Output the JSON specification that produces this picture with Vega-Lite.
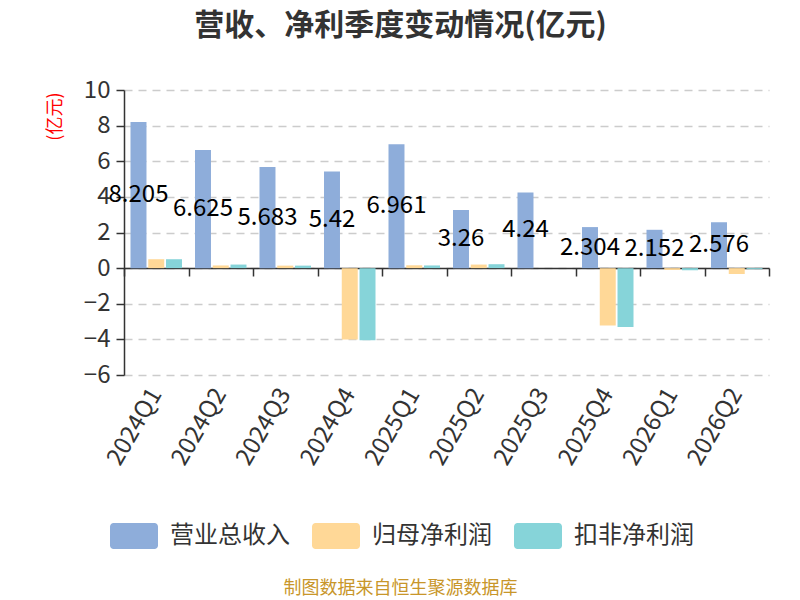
{
  "$schema": "https://vega.github.io/schema/vega-lite/v6.json",
  "width": 645,
  "height": 285,
  "autosize": {"type": "none"},
  "padding": {"left": 124, "top": 90, "right": 31, "bottom": 225},
  "background": "white",
  "config": {
    "font": "Noto Sans CJK SC",
    "view": {"stroke": null}
  },
  "title": {
    "text": "营收、净利季度变动情况(亿元)",
    "fontSize": 30,
    "fontWeight": "bold",
    "color": "#333333",
    "anchor": "middle",
    "frame": "group",
    "dx": -46,
    "offset": 37
  },
  "data": {
    "values": [
      {"quarter": "2024Q1", "series": "营业总收入", "value": 8.205},
      {"quarter": "2024Q2", "series": "营业总收入", "value": 6.625},
      {"quarter": "2024Q3", "series": "营业总收入", "value": 5.683},
      {"quarter": "2024Q4", "series": "营业总收入", "value": 5.42},
      {"quarter": "2025Q1", "series": "营业总收入", "value": 6.961},
      {"quarter": "2025Q2", "series": "营业总收入", "value": 3.26},
      {"quarter": "2025Q3", "series": "营业总收入", "value": 4.24},
      {"quarter": "2025Q4", "series": "营业总收入", "value": 2.304},
      {"quarter": "2026Q1", "series": "营业总收入", "value": 2.152},
      {"quarter": "2026Q2", "series": "营业总收入", "value": 2.576},
      {"quarter": "2024Q1", "series": "归母净利润", "value": 0.5},
      {"quarter": "2024Q2", "series": "归母净利润", "value": 0.15},
      {"quarter": "2024Q3", "series": "归母净利润", "value": 0.14},
      {"quarter": "2024Q4", "series": "归母净利润", "value": -4.0},
      {"quarter": "2025Q1", "series": "归母净利润", "value": 0.16},
      {"quarter": "2025Q2", "series": "归母净利润", "value": 0.2},
      {"quarter": "2025Q4", "series": "归母净利润", "value": -3.22},
      {"quarter": "2026Q1", "series": "归母净利润", "value": -0.1},
      {"quarter": "2026Q2", "series": "归母净利润", "value": -0.33},
      {"quarter": "2024Q1", "series": "扣非净利润", "value": 0.5},
      {"quarter": "2024Q2", "series": "扣非净利润", "value": 0.2},
      {"quarter": "2024Q3", "series": "扣非净利润", "value": 0.14},
      {"quarter": "2024Q4", "series": "扣非净利润", "value": -4.05},
      {"quarter": "2025Q1", "series": "扣非净利润", "value": 0.15},
      {"quarter": "2025Q2", "series": "扣非净利润", "value": 0.22},
      {"quarter": "2025Q4", "series": "扣非净利润", "value": -3.3},
      {"quarter": "2026Q1", "series": "扣非净利润", "value": -0.12},
      {"quarter": "2026Q2", "series": "扣非净利润", "value": -0.06}
    ]
  },
  "resolve": {"scale": {"y": "independent"}, "axis": {"x": "independent"}},
  "layer": [
    {
      "mark": {"type": "bar"},
      "encoding": {
        "x": {
          "field": "quarter",
          "type": "nominal",
          "sort": null,
          "scale": {"paddingInner": 0, "paddingOuter": 0},
          "axis": {
            "orient": "bottom",
            "domain": false,
            "ticks": false,
            "grid": false,
            "labelAngle": -60,
            "labelFontSize": 24,
            "labelColor": "#333333",
            "labelPadding": 15,
            "title": "制图数据来自恒生聚源数据库",
            "titleColor": "#c8962a",
            "titleFontSize": 18,
            "titleFontWeight": "normal",
            "titleAnchor": "start",
            "titleAlign": "center",
            "titleX": 276,
            "titleY": 213,
            "titleBaseline": "middle"
          }
        },
        "xOffset": {
          "field": "series",
          "type": "nominal",
          "sort": ["营业总收入", "归母净利润", "扣非净利润"],
          "scale": {"domain": ["营业总收入", "归母净利润", "扣非净利润"], "paddingInner": 0.1, "paddingOuter": 0.366}
        },
        "y": {
          "field": "value",
          "type": "quantitative",
          "scale": {"domain": [-6, 10], "nice": false},
          "axis": {
            "values": [-6, -4, -2, 0, 2, 4, 6, 8, 10],
            "domainColor": "#333333",
            "domainWidth": 1.5,
            "tickColor": "#333333",
            "tickSize": 8,
            "tickWidth": 1.5,
            "labelFontSize": 24,
            "labelColor": "#333333",
            "labelPadding": 6,
            "gridColor": "#cccccc",
            "gridDash": [8, 6],
            "gridWidth": 1.5,
            "title": "(亿元)",
            "titleColor": "red",
            "titleFontSize": 18,
            "titleFontWeight": "normal",
            "titleAnchor": "end",
            "titleX": -60,
            "titleY": 2
          }
        },
        "color": {
          "field": "series",
          "type": "nominal",
          "scale": {
            "domain": ["营业总收入", "归母净利润", "扣非净利润"],
            "range": ["#8eadda", "#ffd897", "#86d4d9"]
          },
          "legend": {
            "title": null,
            "orient": "none",
            "direction": "horizontal",
            "legendX": -14,
            "legendY": 422,
            "symbolType": "M-0.85,-0.54 H0.85 A0.15,0.15 0 0 1 1,-0.39 V0.39 A0.15,0.15 0 0 1 0.85,0.54 H-0.85 A0.15,0.15 0 0 1 -1,0.39 V-0.39 A0.15,0.15 0 0 1 -0.85,-0.54 Z",
            "symbolSize": 2304,
            "symbolStrokeWidth": 0,
            "symbolOpacity": 1,
            "labelFontSize": 24,
            "labelColor": "#333333",
            "labelOffset": 12,
            "columnPadding": 22
          }
        }
      }
    },
    {
      "transform": [{"filter": "datum.series === '营业总收入'"}],
      "mark": {"type": "text", "fontSize": 24, "color": "#000000", "align": "center", "baseline": "middle"},
      "encoding": {
        "x": {
          "field": "quarter",
          "type": "nominal",
          "sort": null,
          "scale": {"paddingInner": 0, "paddingOuter": 0},
          "axis": {
            "orient": "bottom",
            "offset": -107,
            "labels": false,
            "grid": false,
            "domain": true,
            "domainColor": "#333333",
            "domainWidth": 1.5,
            "ticks": true,
            "tickBand": "extent",
            "tickColor": "#333333",
            "tickSize": 8,
            "tickWidth": 1.5,
            "title": null
          }
        },
        "xOffset": {
          "field": "series",
          "type": "nominal",
          "scale": {"domain": ["营业总收入", "归母净利润", "扣非净利润"], "paddingInner": 0.1, "paddingOuter": 0.366}
        },
        "y": {
          "field": "value",
          "type": "quantitative",
          "scale": {"domain": [-12, 20], "nice": false},
          "axis": null
        },
        "text": {"field": "value", "type": "quantitative"}
      }
    }
  ]
}
